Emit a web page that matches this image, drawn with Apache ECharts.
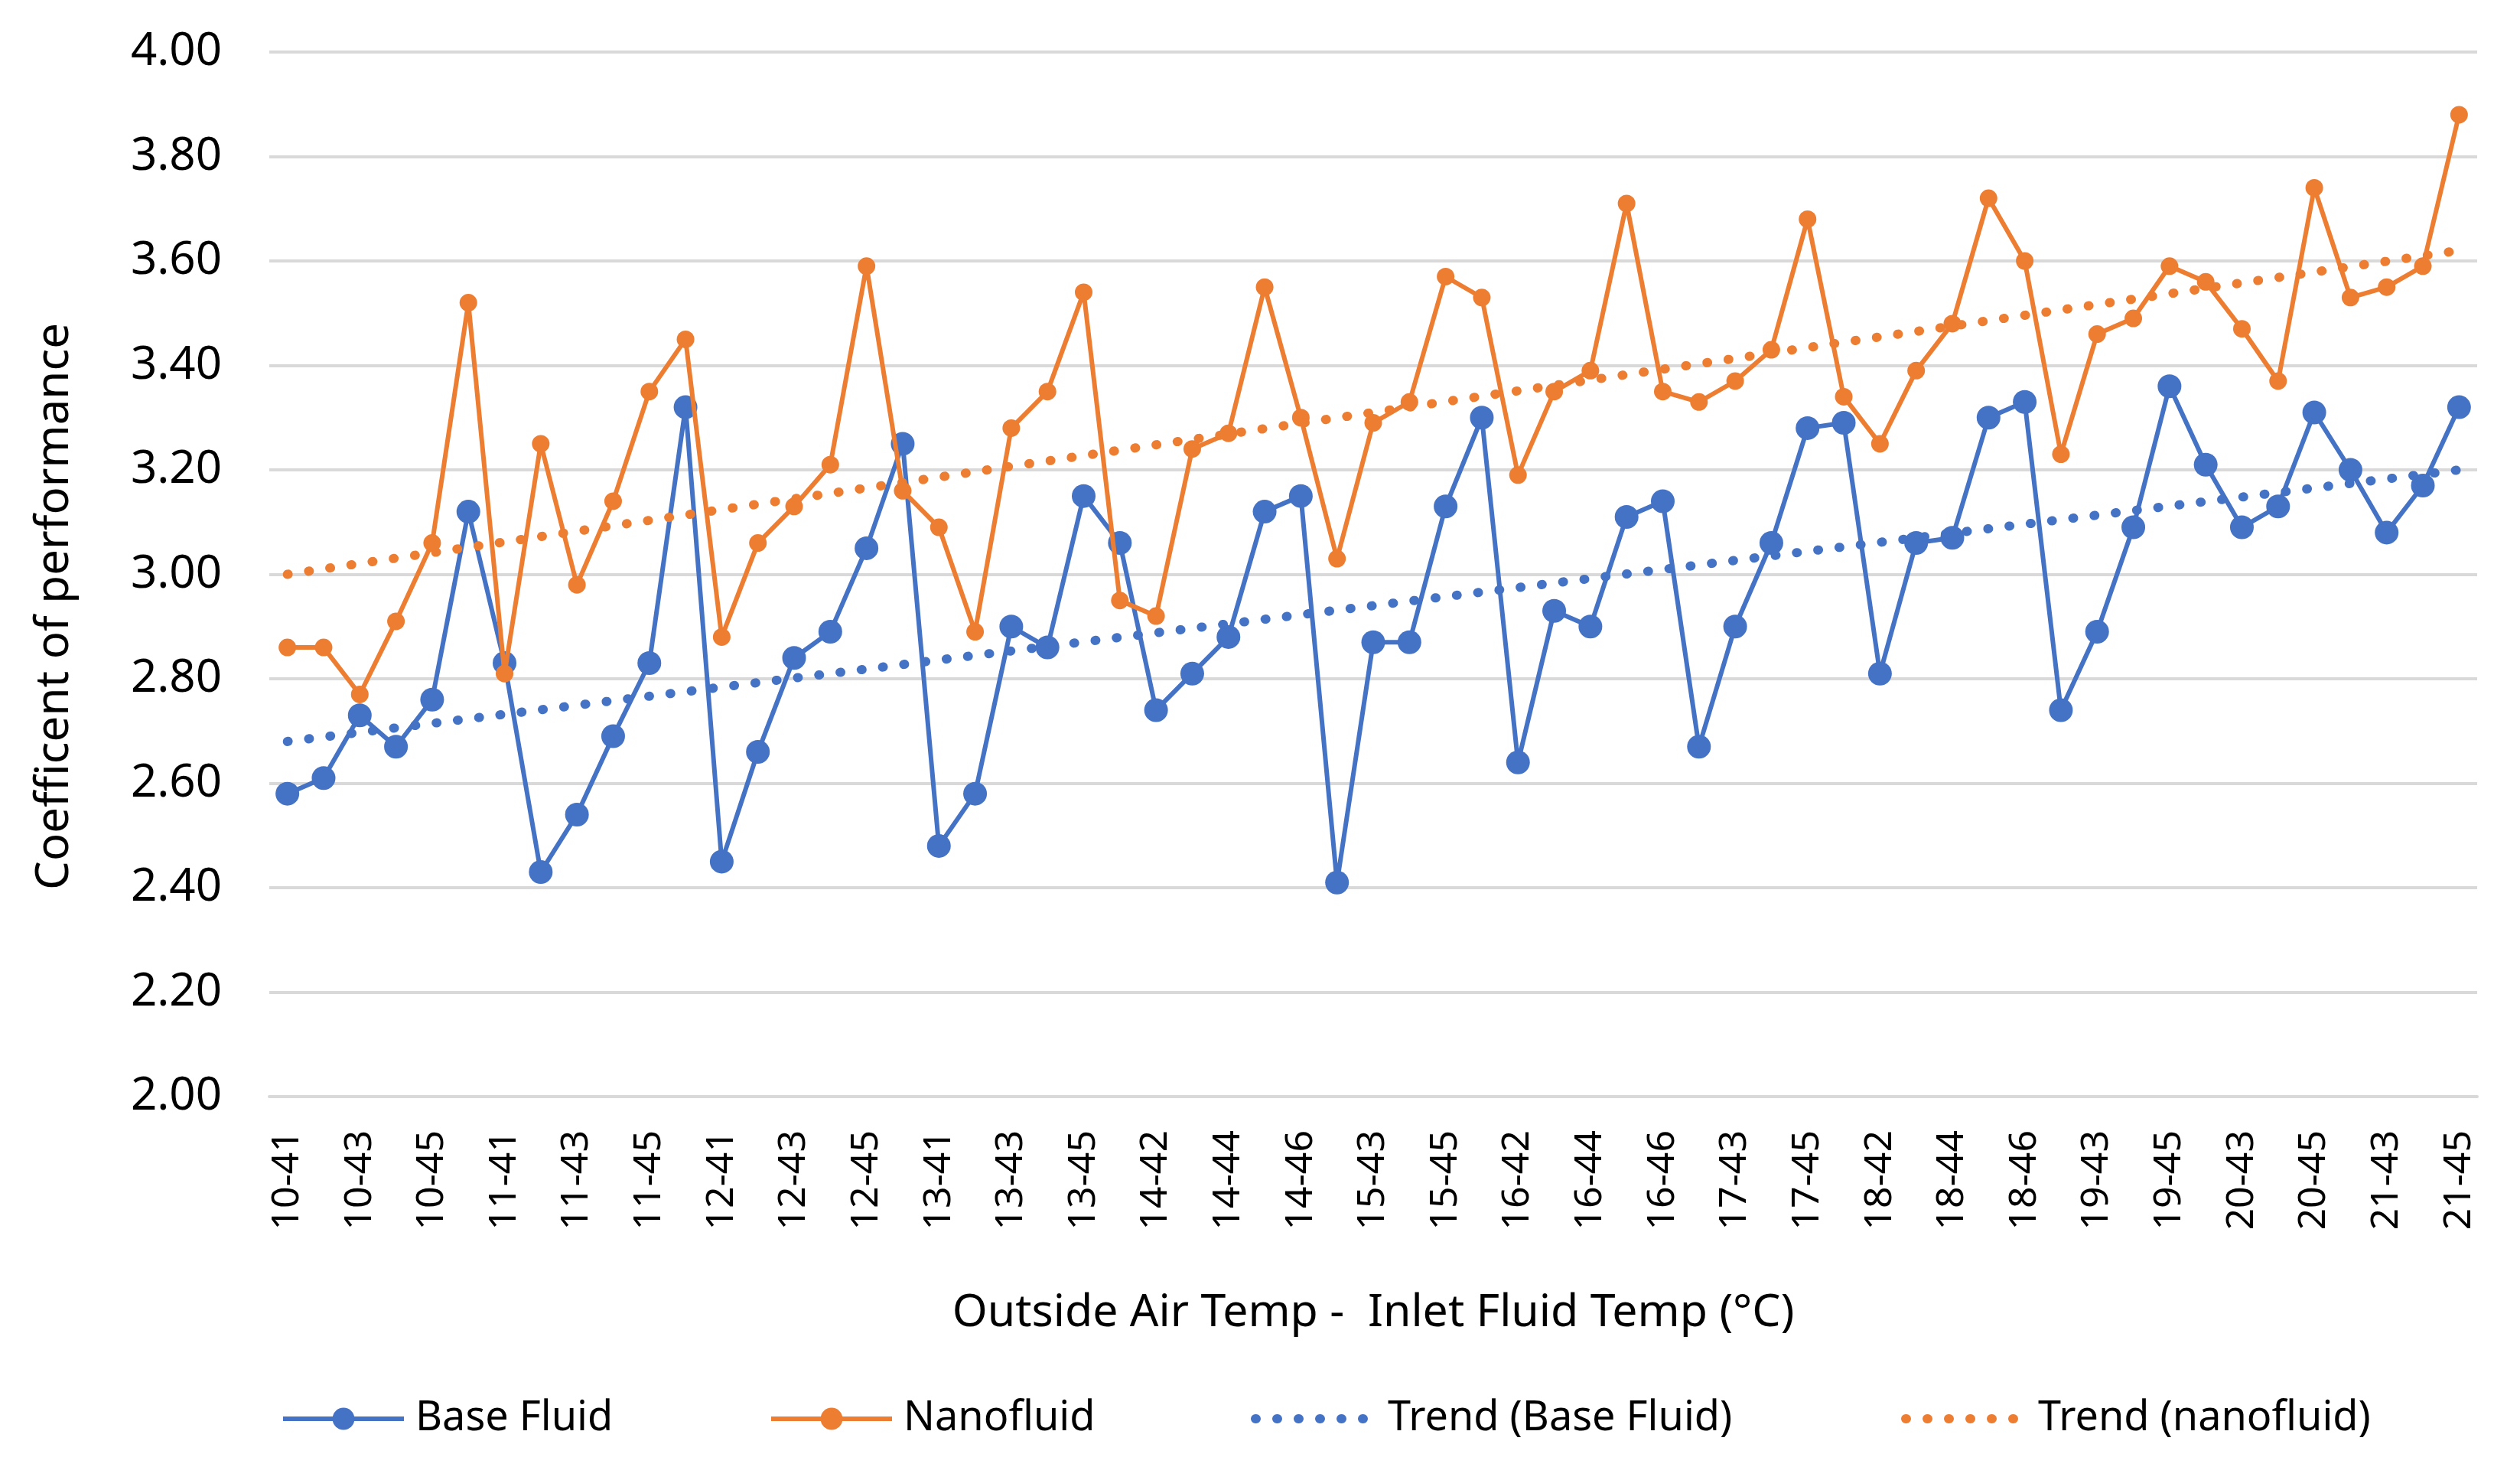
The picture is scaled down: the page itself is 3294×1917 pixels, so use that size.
<!DOCTYPE html>
<html>
<head>
<meta charset="utf-8">
<script src="https://cdn.jsdelivr.net/npm/echarts@6/dist/echarts.min.js"></script>
<style>
html,body{margin:0;padding:0;background:#fff;}
#chart{width:3294px;height:1917px;}
</style>
</head>
<body>
<div id="chart"></div>
<script>
var categories = [
  '10-41','10-42','10-43','10-44','10-45','10-46',
  '11-41','11-42','11-43','11-44','11-45','11-46',
  '12-41','12-42','12-43','12-44','12-45','12-46',
  '13-41','13-42','13-43','13-44','13-45','13-46',
  '14-42','14-43','14-44','14-45','14-46',
  '15-42','15-43','15-44','15-45','15-46',
  '16-42','16-43','16-44','16-45','16-46',
  '17-42','17-43','17-44','17-45','17-46',
  '18-42','18-43','18-44','18-45','18-46',
  '19-42','19-43','19-44','19-45','19-46',
  '20-43','20-44','20-45','20-46',
  '21-43','21-44','21-45'
];
var baseFluid = [
  2.58, 2.61, 2.73, 2.67, 2.76, 3.12,
  2.83, 2.43, 2.54, 2.69, 2.83, 3.32,
  2.45, 2.66, 2.84, 2.89, 3.05, 3.25,
  2.48, 2.58, 2.90, 2.86, 3.15, 3.06,
  2.74, 2.81, 2.88, 3.12, 3.15,
  2.41, 2.87, 2.87, 3.13, 3.30,
  2.64, 2.93, 2.90, 3.11, 3.14,
  2.67, 2.90, 3.06, 3.28, 3.29,
  2.81, 3.06, 3.07, 3.30, 3.33,
  2.74, 2.89, 3.09, 3.36, 3.21,
  3.09, 3.13, 3.31, 3.20,
  3.08, 3.17, 3.32
];
var nanofluid = [
  2.86, 2.86, 2.77, 2.91, 3.06, 3.52,
  2.81, 3.25, 2.98, 3.14, 3.35, 3.45,
  2.88, 3.06, 3.13, 3.21, 3.59, 3.16,
  3.09, 2.89, 3.28, 3.35, 3.54, 2.95,
  2.92, 3.24, 3.27, 3.55, 3.30,
  3.03, 3.29, 3.33, 3.57, 3.53,
  3.19, 3.35, 3.39, 3.71, 3.35,
  3.33, 3.37, 3.43, 3.68, 3.34,
  3.25, 3.39, 3.48, 3.72, 3.60,
  3.23, 3.46, 3.49, 3.59, 3.56,
  3.47, 3.37, 3.74, 3.53,
  3.55, 3.59, 3.88
];
// trendline end points [first category, last category]
var trendBaseEnds = [2.68, 3.20];
var trendNanoEnds = [3.00, 3.62];
var yTicks = [2.0, 4.0, 0.2]; // min, max, interval

var BLUE = '#4472C4', ORANGE = '#ED7D31', FONT = 'Noto Sans';
var last = categories.length - 1;
var DOT = [1, 27];

var chart = echarts.init(document.getElementById('chart'));
function legendFor(name, left, color, isTrend) {
  return {
    data: [name], left: left, top: 1822, orient: 'horizontal',
    itemWidth: 158, itemHeight: 36, selectedMode: false,
    itemStyle: isTrend ? {opacity: 0} : {color: color},
    lineStyle: isTrend ? {color: color, width: 12, type: DOT, cap: 'round'} : {color: color, width: 6},
    textStyle: {fontFamily: FONT, fontSize: 54, color: '#000', padding: [0, 0, 0, 10]}
  };
}
chart.setOption({
  animation: false,
  backgroundColor: '#fff',
  textStyle: {fontFamily: FONT},
  grid: {left: 352, right: 56, top: 68, bottom: 484, containLabel: false},
  legend: [
    legendFor('Base Fluid', 362, BLUE, false),
    legendFor('Nanofluid', 1000, ORANGE, false),
    legendFor('Trend (Base Fluid)', 1630, BLUE, true),
    legendFor('Trend (nanofluid)', 2480, ORANGE, true)
  ],
  xAxis: {
    type: 'category',
    data: categories,
    boundaryGap: true,
    name: 'Outside Air Temp -  Inlet Fluid Temp (°C)',
    nameLocation: 'middle',
    nameGap: 254,
    nameTextStyle: {fontFamily: FONT, fontSize: 59, color: '#000'},
    axisLine: {show: true, lineStyle: {color: '#D9D9D9', width: 4}},
    axisTick: {show: false},
    axisLabel: {interval: 1, rotate: 90, margin: 44, fontFamily: FONT, fontSize: 50, color: '#000'},
    splitLine: {show: false}
  },
  yAxis: {
    type: 'value',
    min: yTicks[0], max: yTicks[1], interval: yTicks[2],
    name: 'Coefficent of performance',
    nameLocation: 'middle',
    nameGap: 250,
    nameTextStyle: {fontFamily: FONT, fontSize: 60, color: '#000', padding: [0, 84, 0, 0]},
    axisLine: {show: false},
    axisTick: {show: false},
    axisLabel: {margin: 62, fontFamily: FONT, fontSize: 60, color: '#000',
      formatter: function (v) { return v.toFixed(2); }},
    splitLine: {show: true, lineStyle: {color: '#D9D9D9', width: 4}}
  },
  series: [
    {
      name: 'Base Fluid', type: 'line', data: baseFluid,
      symbol: 'circle', symbolSize: 31,
      itemStyle: {color: BLUE}, lineStyle: {color: BLUE, width: 6}, z: 2
    },
    {
      name: 'Nanofluid', type: 'line', data: nanofluid,
      symbol: 'circle', symbolSize: 23,
      itemStyle: {color: ORANGE}, lineStyle: {color: ORANGE, width: 6}, z: 3
    },
    {
      name: 'Trend (Base Fluid)', type: 'line',
      data: [[0, trendBaseEnds[0]], [last, trendBaseEnds[1]]],
      symbol: 'none', itemStyle: {color: BLUE},
      lineStyle: {color: BLUE, width: 12, type: DOT, cap: 'round'}, z: 4
    },
    {
      name: 'Trend (nanofluid)', type: 'line',
      data: [[0, trendNanoEnds[0]], [last, trendNanoEnds[1]]],
      symbol: 'none', itemStyle: {color: ORANGE},
      lineStyle: {color: ORANGE, width: 12, type: DOT, cap: 'round'}, z: 5
    }
  ]
});
</script>
</body>
</html>
